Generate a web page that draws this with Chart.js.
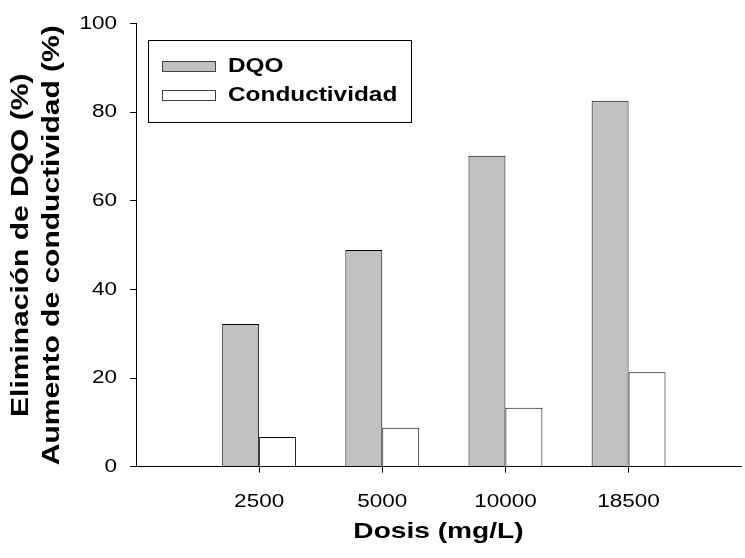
<!DOCTYPE html>
<html>
<head>
<meta charset="utf-8">
<script src="https://cdn.jsdelivr.net/npm/chart.js@4.4.1/dist/chart.umd.min.js"></script>
<style>
  html, body { margin: 0; padding: 0; background: #ffffff; }
  canvas { display: block; }
</style>
</head>
<body>
<canvas id="c" width="745" height="558" style="width:745px;height:558px"></canvas>
<script>
// ---- data ----
const categories = ['2500', '5000', '10000', '18500'];
const dqoValues = [32.2, 48.9, 70.2, 82.6];
const condValues = [6.7, 8.8, 13.3, 21.3];
const seriesNames = ['DQO', 'Conductividad'];
const yTicks = [0, 20, 40, 60, 80, 100];

const FONT = "'Liberation Sans', Arial, Helvetica, sans-serif";
const canvas = document.getElementById('c');
const ctx = canvas.getContext('2d');

// The reference uses horizontally widened glyphs; widen text along its own direction.
const WIDEN = 1.25;
const origFill = ctx.fillText.bind(ctx);
const origMeasure = ctx.measureText.bind(ctx);
ctx.fillText = function (t, x, y, mw) {
  ctx.save();
  ctx.translate(x, y);
  ctx.scale(WIDEN, 1);
  origFill(t, 0, 0);
  ctx.restore();
};
ctx.measureText = function (t) {
  const m = origMeasure(t);
  return {
    width: m.width * WIDEN,
    actualBoundingBoxAscent: m.actualBoundingBoxAscent,
    actualBoundingBoxDescent: m.actualBoundingBoxDescent,
    actualBoundingBoxLeft: m.actualBoundingBoxLeft * WIDEN,
    actualBoundingBoxRight: m.actualBoundingBoxRight * WIDEN,
    fontBoundingBoxAscent: m.fontBoundingBoxAscent,
    fontBoundingBoxDescent: m.fontBoundingBoxDescent
  };
};

const toPoints = (vals) => vals.map((v, i) => ({ x: i + 1, y: v }));

const boxedLegend = {
  id: 'boxedLegend',
  afterDraw(chart) {
    const c = chart.ctx;
    c.save();
    c.lineWidth = 1;
    c.strokeStyle = '#000000';
    c.strokeRect(148.5, 40.5, 263, 82);
    chart.data.datasets.forEach((ds, i) => {
      const sy = 61 + 29 * i;
      c.fillStyle = ds.backgroundColor;
      c.fillRect(162, sy, 54, 11);
      c.strokeStyle = '#404040';
      c.strokeRect(162.5, sy + 0.5, 53, 10);
      c.fillStyle = '#000000';
      c.font = 'bold 19.5px ' + FONT;
      c.textAlign = 'left';
      c.textBaseline = 'middle';
      c.fillText(ds.label, 228, sy + 6);
    });
    c.restore();
  }
};

new Chart(ctx, {
  type: 'bar',
  data: {
    datasets: [
      {
        label: seriesNames[0],
        data: toPoints(dqoValues),
        backgroundColor: '#c0c0c0',
        borderColor: '#000000',
        borderWidth: 1
      },
      {
        label: seriesNames[1],
        data: toPoints(condValues),
        backgroundColor: '#ffffff',
        borderColor: '#000000',
        borderWidth: 1
      }
    ]
  },
  options: {
    responsive: false,
    animation: false,
    devicePixelRatio: 1,
    layout: { padding: { left: 0, top: 22, right: 4, bottom: 0 } },
    datasets: { bar: { categoryPercentage: 0.6, barPercentage: 1.0 } },
    plugins: {
      legend: { display: false },
      tooltip: { enabled: false },
      title: { display: false }
    },
    scales: {
      x: {
        type: 'linear',
        offset: false,
        min: 0,
        max: 4.913,
        afterBuildTicks(scale) {
          scale.ticks = categories.map((_, i) => ({ value: i + 1 }));
        },
        afterFit(scale) { scale.height = 91.3; },
        ticks: {
          autoSkip: false,
          maxRotation: 0,
          padding: 19,
          color: '#000000',
          font: { family: FONT, size: 18 },
          callback: (v) => categories[Math.round(v) - 1] ?? ''
        },
        grid: {
          offset: false,
          drawOnChartArea: false,
          drawTicks: true,
          tickLength: 6,
          tickColor: '#000000',
          tickWidth: 1
        },
        border: { display: true, color: '#000000', width: 1 },
        title: {
          display: true,
          text: 'Dosis (mg/L)',
          color: '#000000',
          font: { family: FONT, size: 22.5, weight: 'bold', lineHeight: 1.2 },
          padding: { top: 0, bottom: 13 }
        }
      },
      y: {
        min: 0,
        max: 100,
        afterBuildTicks(scale) {
          scale.ticks = yTicks.map((v) => ({ value: v }));
        },
        afterFit(scale) { scale.width = 136; },
        ticks: {
          padding: 13,
          color: '#000000',
          font: { family: FONT, size: 18 }
        },
        grid: {
          drawOnChartArea: false,
          drawTicks: true,
          tickLength: 6,
          tickColor: '#000000',
          tickWidth: 1
        },
        border: { display: true, color: '#000000', width: 1 },
        title: {
          display: true,
          text: ['Eliminación de DQO (%)', 'Aumento de conductividad (%)'],
          color: '#000000',
          font: { family: FONT, size: 24, weight: 'bold', lineHeight: 1.29 },
          padding: { top: 5.5, bottom: 0 }
        }
      }
    }
  },
  plugins: [boxedLegend]
});
</script>
</body>
</html>
